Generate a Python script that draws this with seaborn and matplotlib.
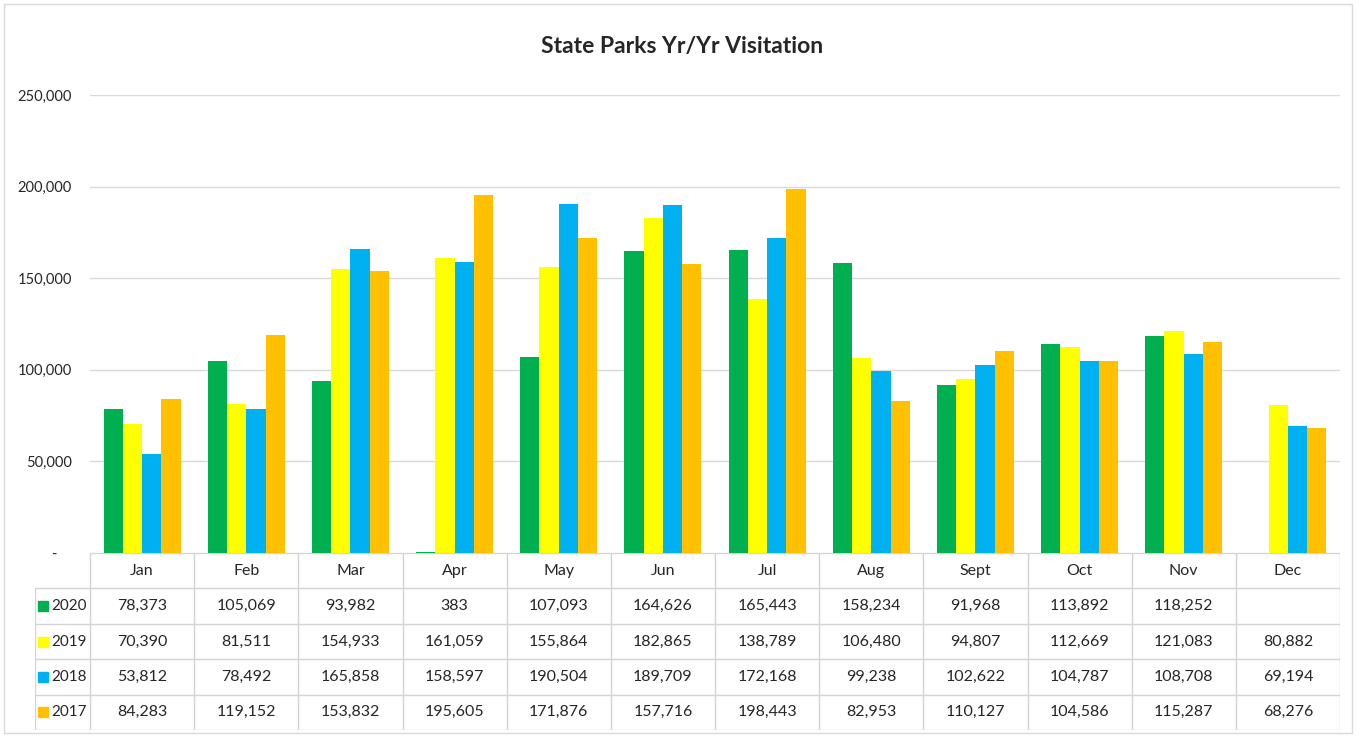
import numpy as np
import pandas as pd
import matplotlib.pyplot as plt
import seaborn as sns
from matplotlib.patches import Rectangle
from matplotlib.ticker import FuncFormatter

months = ['Jan', 'Feb', 'Mar', 'Apr', 'May', 'Jun', 'Jul', 'Aug', 'Sept', 'Oct', 'Nov', 'Dec']
years = ['2020', '2019', '2018', '2017']
v2020 = [78373, 105069, 93982, 383, 107093, 164626, 165443, 158234, 91968, 113892, 118252, np.nan]
v2019 = [70390, 81511, 154933, 161059, 155864, 182865, 138789, 106480, 94807, 112669, 121083, 80882]
v2018 = [53812, 78492, 165858, 158597, 190504, 189709, 172168, 99238, 102622, 104787, 108708, 69194]
v2017 = [84283, 119152, 153832, 195605, 171876, 157716, 198443, 82953, 110127, 104586, 115287, 68276]
colors = ['#00B050', '#FFFF00', '#00B0F0', '#FFC000']

series = [v2020, v2019, v2018, v2017]
df = pd.DataFrame({
    'Month': months * len(years),
    'Year': [y for y in years for _ in months],
    'Visitors': [v for s in series for v in s],
})

sns.set_theme(style='white')
plt.rcParams['font.family'] = ['Lato', 'DejaVu Sans']

W, H = 1359, 736
fig = plt.figure(figsize=(W / 100, H / 100), dpi=100)
fig.patches.append(Rectangle((4 / W, 3 / H), 1348 / W, 729 / H, transform=fig.transFigure,
                             fill=False, edgecolor='#d9d9d9', lw=1))

# main chart
ax = fig.add_axes([90 / W, 183 / H, 1250 / W, 458 / H])
sns.barplot(data=df, x='Month', y='Visitors', hue='Year', order=months, hue_order=years,
            palette=colors, saturation=1, width=0.74, linewidth=0, errorbar=None,
            legend=False, ax=ax)
ax.set_xlim(-0.5, 11.5)
ax.set_ylim(0, 250000)
ax.set_yticks(range(0, 250001, 50000))
ax.yaxis.set_major_formatter(FuncFormatter(lambda v, p: '-    ' if v == 0 else f'{int(v):,}'))
ax.tick_params(axis='y', labelsize=10.5, pad=13, length=0)
ax.set_xticks([])
ax.set_xlabel('')
ax.set_ylabel('')
ax.yaxis.grid(True, color='#d9d9d9', lw=1)
ax.set_axisbelow(True)
for s in ax.spines.values():
    s.set_visible(False)
fig.text(0.502, 1 - 46 / H, 'State Parks Yr/Yr Visitation', ha='center', va='center',
         fontsize=16.5, fontweight='bold')

# data table
lab_w = 55 / (1250 / 12)
tax = fig.add_axes([35 / W, 6 / H, 1305 / W, 177 / H])
tax.set_xlim(-0.5 - lab_w, 11.5)
tax.set_ylim(5, 0)
tax.axis('off')
lc = '#d4d4d4'
tax.plot([-0.5, 11.5], [0, 0], color=lc, lw=1)
for r in range(1, 6):
    tax.plot([-0.5 - lab_w, 11.5], [r, r], color=lc, lw=1)
for k in range(13):
    tax.plot([-0.5 + k, -0.5 + k], [0, 5], color=lc, lw=1)
tax.plot([-0.5 - lab_w, -0.5 - lab_w], [1, 5], color=lc, lw=1)
for i, m in enumerate(months):
    tax.text(i, 0.5, m, ha='center', va='center', fontsize=11.5)
for r, (yr, s, c) in enumerate(zip(years, series, colors)):
    tax.plot([-0.5 - lab_w + 0.08], [r + 1.5], marker='s', markersize=7, color=c, lw=0)
    tax.text(-0.5 - lab_w + 0.155, r + 1.5, yr, ha='left', va='center', fontsize=11)
    for i, v in enumerate(s):
        if not np.isnan(v):
            tax.text(i, r + 1.5, f'{int(v):,}', ha='center', va='center', fontsize=11.5)

fig.savefig('out.png', dpi=100)
